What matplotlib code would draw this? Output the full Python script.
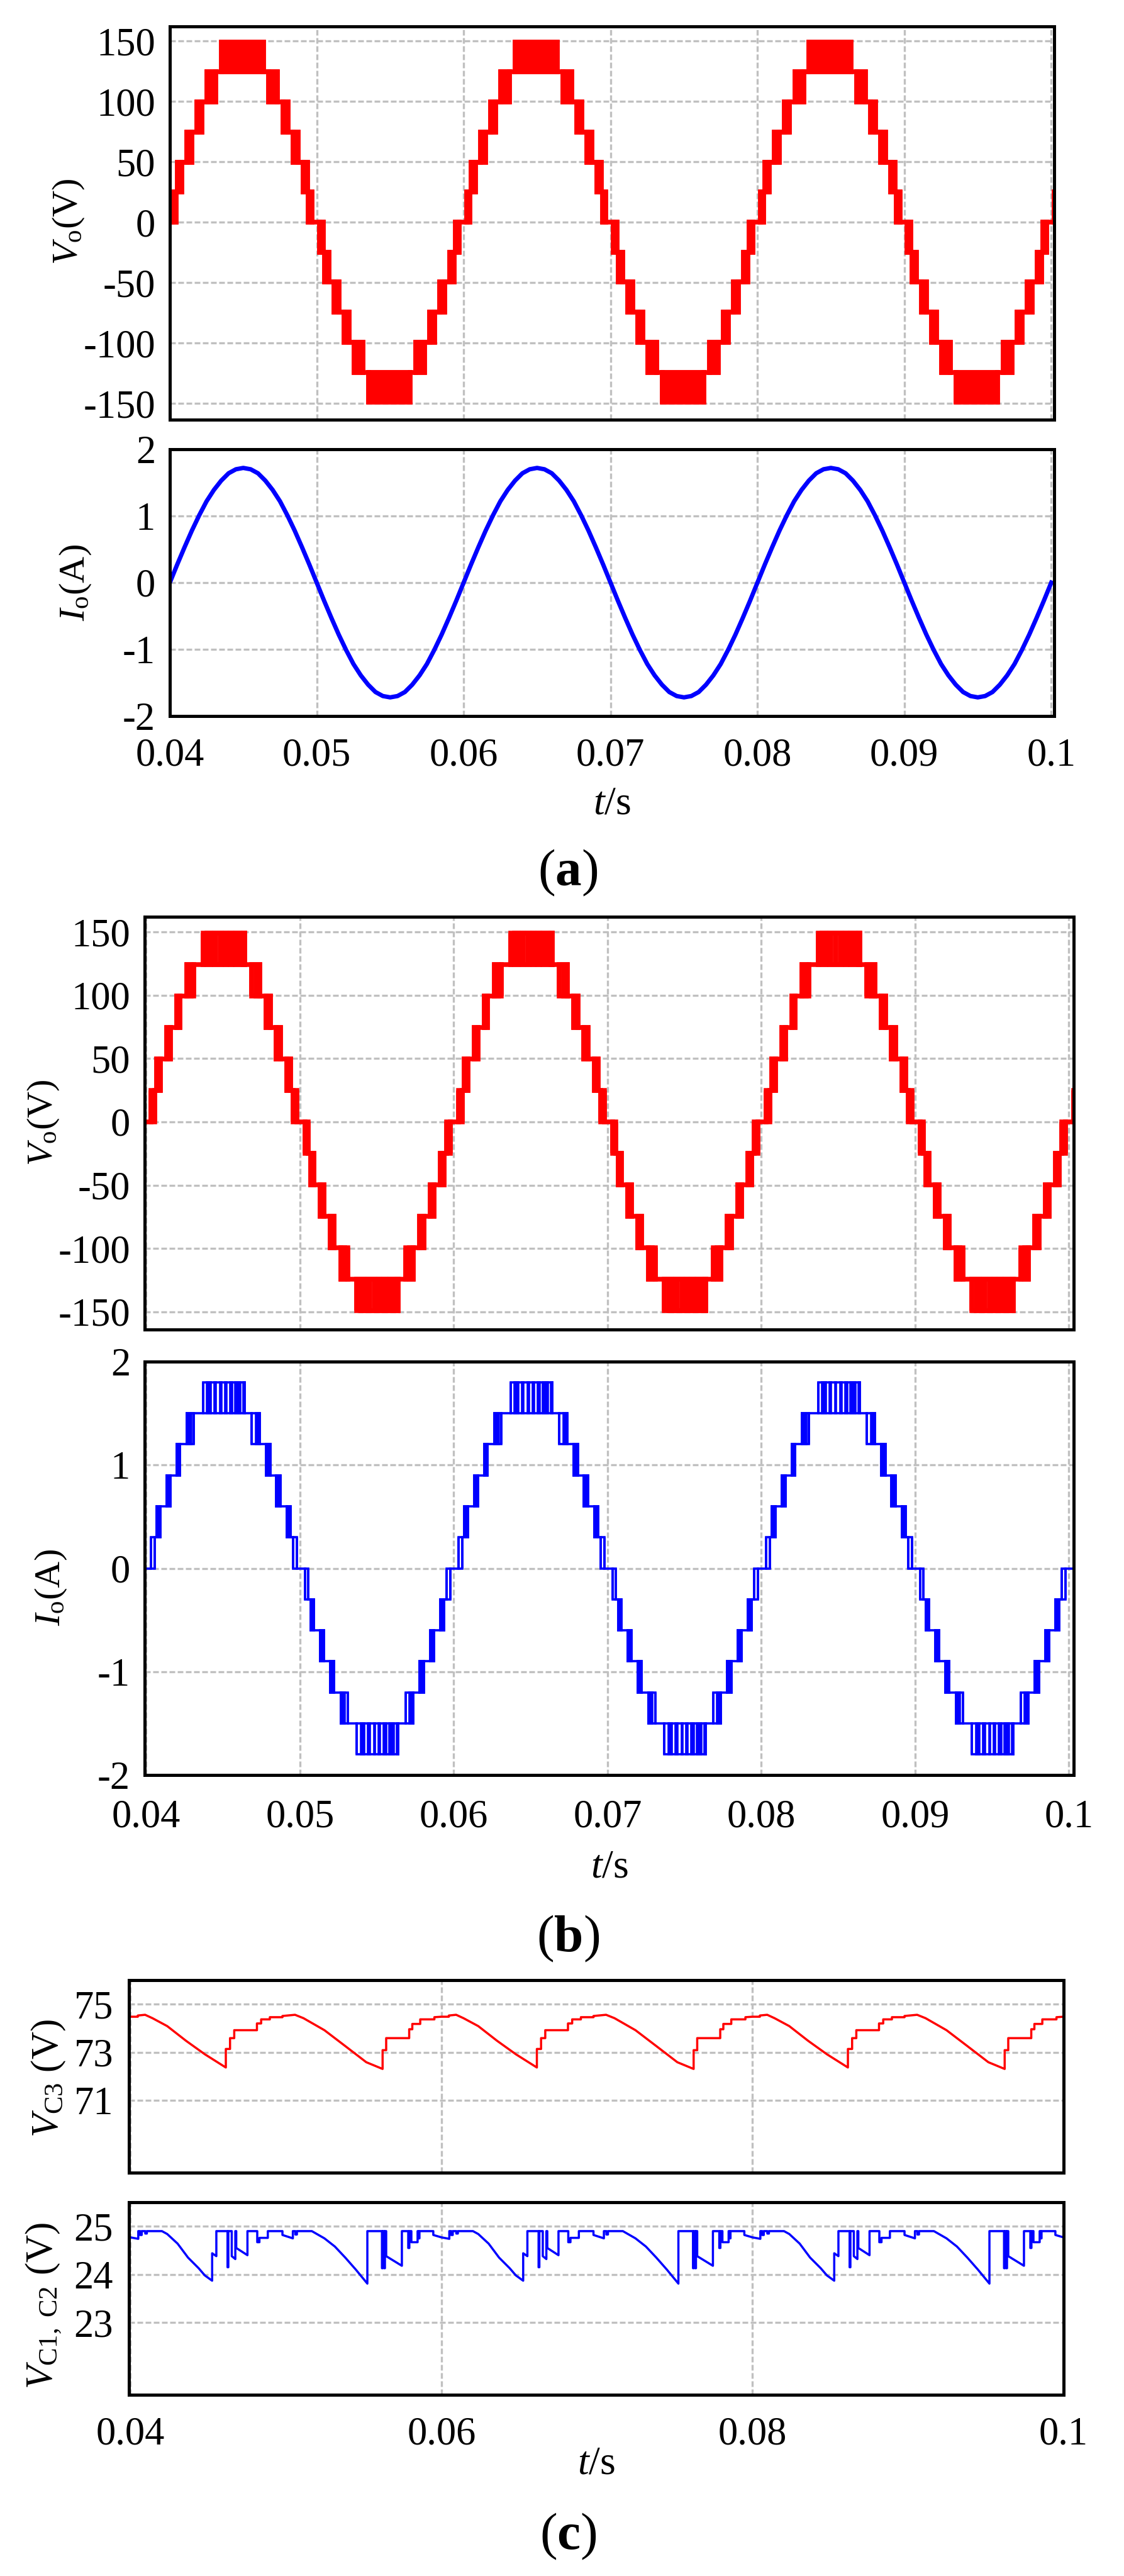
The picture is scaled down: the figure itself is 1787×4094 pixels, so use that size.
import numpy as np
import matplotlib
matplotlib.use('Agg')
import matplotlib.pyplot as plt
from matplotlib.patches import Rectangle

plt.rcParams['font.family'] = ['Liberation Serif', 'DejaVu Serif']
plt.rcParams['mathtext.fontset'] = 'custom'
plt.rcParams['mathtext.rm'] = 'Liberation Serif'
plt.rcParams['mathtext.it'] = 'Liberation Serif:italic'
plt.rcParams['mathtext.bf'] = 'Liberation Serif:bold'
plt.rcParams['axes.unicode_minus'] = False

# ---------------- data ----------------
period_ms = 20.0          # 50 Hz output
step_v = 24.85            # one inverter voltage level (V)
step_i = 0.30             # matching load current step in (b) (A)

# (a) output voltage, positive half cycle: (lower level, [(start_ms, end_ms)])
# times from the zero crossing, each group switches between lower and lower+1
a_v_groups = [
    (0, [(0.25, 0.50)]),
    (1, [(0.58, 0.88)]),
    (2, [(1.22, 1.56)]),
    (3, [(1.91, 2.25)]),
    (4, [(2.60, 3.20)]),
    (5, [(3.58, 6.42)]),
    (4, [(6.80, 7.40)]),
    (3, [(7.75, 8.09)]),
    (2, [(8.44, 8.78)]),
    (1, [(9.12, 9.42)]),
    (0, [(9.50, 9.75)]),
]
a_zero = 0.03994

# (a) load current, one period sampled every 0.5 ms
a_i_period = [0.00, 0.27, 0.53, 0.78, 1.01, 1.22, 1.39, 1.53, 1.64, 1.70,
              1.72, 1.70, 1.64, 1.53, 1.39, 1.22, 1.01, 0.78, 0.53, 0.27,
              0.00, -0.27, -0.53, -0.78, -1.01, -1.22, -1.39, -1.53, -1.64, -1.70,
              -1.72, -1.70, -1.64, -1.53, -1.39, -1.22, -1.01, -0.78, -0.53, -0.27]

# (b) switching pulses of the positive half cycle (same pattern in V and I)
b_groups = [
    (0, [(0.31, 0.31), (0.54, 0.54)]),
    (1, [(0.69, 0.92)]),
    (2, [(1.33, 1.56)]),
    (3, [(1.97, 2.21)]),
    (4, [(2.65, 2.92), (3.10, 3.10)]),
    (5, [(3.70, 3.70), (3.95, 4.19), (4.44, 4.53), (4.81, 4.87), (5.12, 5.21),
         (5.46, 5.59), (5.80, 6.10), (6.31, 6.40)]),
    (4, [(6.87, 6.87), (7.13, 7.37)]),
    (3, [(7.78, 8.08)]),
    (2, [(8.45, 8.73)]),
    (1, [(9.14, 9.37)]),
    (0, [(9.55, 9.55), (9.78, 9.78)]),
]
b_zero = 0.04

# (c) capacitor voltages over one period (ms, V)
c3_t = [0.00, 0.47, 0.47, 0.94, 1.41, 2.36, 3.57, 4.78, 6.13, 6.13, 6.40, 6.40,
        6.67, 6.67, 8.13, 8.13, 8.40, 8.40, 8.96, 8.96, 9.77, 9.77, 10.58, 11.12,
        12.47, 13.81, 15.16, 16.21, 16.21, 16.44, 16.44, 17.92, 17.92, 18.12,
        18.12, 18.63, 18.63, 19.54, 19.54, 20.00]
c3_v = [74.48, 74.48, 74.53, 74.56, 74.42, 74.09, 73.48, 72.92, 72.37, 73.14,
        73.14, 73.59, 73.59, 73.92, 73.92, 74.20, 74.20, 74.37, 74.37, 74.46,
        74.46, 74.51, 74.56, 74.42, 73.92, 73.26, 72.59, 72.31, 73.09, 73.09,
        73.59, 73.59, 73.96, 73.96, 74.18, 74.18, 74.37, 74.37, 74.46, 74.48]

c12_t = [0.00, 0.50, 0.50, 0.62, 0.62, 0.72, 0.72, 0.95, 0.95, 1.05, 1.05, 2.02,
         2.36, 3.03, 3.70, 4.38, 4.78, 5.25, 5.25, 5.52, 5.52, 6.24, 6.24, 6.29,
         6.29, 6.51, 6.51, 6.74, 6.74, 6.80, 6.80, 7.52, 7.52, 8.15, 8.15, 8.29,
         8.29, 8.83, 8.83, 9.77, 9.77, 10.44, 10.44, 10.60, 10.60, 10.70, 10.70,
         11.66, 12.47, 13.14, 13.81, 14.49, 15.23, 15.23, 16.17, 16.17, 16.22,
         16.22, 16.31, 16.31, 16.36, 16.36, 16.44, 16.44, 17.45, 17.45, 17.86,
         17.86, 17.93, 17.93, 18.06, 18.06, 18.46, 18.46, 18.52, 18.52, 18.58,
         18.58, 19.47, 19.47, 20.00]
c12_v = [24.77, 24.74, 24.90, 24.90, 24.82, 24.82, 24.90, 24.90, 24.85, 24.85,
         24.90, 24.90, 24.84, 24.64, 24.35, 24.13, 23.98, 23.87, 24.44, 24.38,
         24.90, 24.90, 24.15, 24.15, 24.90, 24.90, 24.38, 24.32, 24.90, 24.90,
         24.55, 24.40, 24.90, 24.90, 24.67, 24.67, 24.76, 24.76, 24.90, 24.90,
         24.82, 24.75, 24.90, 24.90, 24.83, 24.83, 24.90, 24.90, 24.75, 24.58,
         24.35, 24.10, 23.81, 24.90, 24.90, 24.13, 24.13, 24.90, 24.90, 24.13,
         24.13, 24.90, 24.90, 24.38, 24.18, 24.90, 24.90, 24.55, 24.55, 24.90,
         24.90, 24.67, 24.67, 24.90, 24.90, 24.75, 24.75, 24.90, 24.90, 24.82,
         24.77]

ab_xticks = [0.04, 0.05, 0.06, 0.07, 0.08, 0.09, 0.1]
ab_xlabels = ['0.04', '0.05', '0.06', '0.07', '0.08', '0.09', '0.1']
c_xticks = [0.04, 0.06, 0.08, 0.1]
c_xlabels = ['0.04', '0.06', '0.08', '0.1']
v_ticks = [-150, -100, -50, 0, 50, 100, 150]
i_ticks = [-2, -1, 0, 1, 2]
c3_ticks = [71, 73, 75]
c12_ticks = [23, 24, 25]

RED = '#ff0000'
BLUE = '#0000ff'
W, H = 1787, 4094

fig = plt.figure(figsize=(W / 100, H / 100), dpi=100)


def add_axes_px(left, top, right, bottom):
    return fig.add_axes([left / W, 1 - bottom / H, (right - left) / W, (bottom - top) / H])


def style(ax, box, xlim, xticks, xlabels, ylim, yticks, xpad, ypad, show_x=True):
    ax.set_xlim(xlim)
    ax.set_ylim(ylim)
    ax.set_xticks(xticks)
    ax.set_xticklabels(xlabels if show_x else [])
    ax.set_yticks(yticks)
    ax.set_yticklabels([str(v) for v in yticks])
    ax.tick_params(length=0, labelsize=45)
    ax.tick_params(axis='x', pad=xpad)
    ax.tick_params(axis='y', pad=ypad)
    ax.grid(True, color='#c0c0c0', linewidth=2.4, linestyle=(0, (2.7, 1.2)))
    ax.set_axisbelow(True)
    for s in ax.spines.values():
        s.set_linewidth(3.6)
        s.set_color('black')


def ylabel_at(ax, box, text, px, py, size):
    left, top, right, bottom = box
    ax.set_ylabel(text, fontsize=size, rotation=90, ha='center', va='center')
    ax.yaxis.set_label_coords((px - left) / (right - left), (bottom - py) / (bottom - top))


def xlabel_at(ax, box, py):
    left, top, right, bottom = box
    ax.set_xlabel(r'$t$/s', fontsize=46, va='center')
    ax.xaxis.set_label_coords(0.5, (bottom - py) / (bottom - top))


def draw_levels(ax, groups, t_zero, step, color, lw, n_half=7):
    half = period_ms / 2
    prev_end = t_zero
    prev_levels = {0.0}
    for h in range(n_half):
        sign = 1 if h % 2 == 0 else -1
        off = h * half
        for lo, blocks in groups:
            y_lo = sign * lo * step
            y_hi = sign * (lo + 1) * step
            s_first = t_zero + (blocks[0][0] + off) / 1000
            s_last = t_zero + (blocks[-1][1] + off) / 1000
            levels = {y_lo, y_hi}
            held = (prev_levels & levels).pop()
            ax.plot([prev_end, s_first], [held, held], color=color, lw=lw,
                    solid_capstyle='projecting')
            ax.add_patch(Rectangle((s_first, min(y_lo, y_hi)), s_last - s_first,
                                   abs(y_hi - y_lo), fill=False, edgecolor=color,
                                   lw=lw, joinstyle='miter'))
            for s0, s1 in blocks:
                x0 = t_zero + (s0 + off) / 1000
                x1 = t_zero + (s1 + off) / 1000
                ax.add_patch(Rectangle((x0, min(y_lo, y_hi)), x1 - x0, abs(y_hi - y_lo),
                                       facecolor=color, edgecolor=color, lw=lw,
                                       joinstyle='miter'))
            prev_end = s_last
            prev_levels = levels


def tile(t_ms, vals, n=3):
    t = np.concatenate([np.array(t_ms) + k * period_ms for k in range(n)])
    v = np.concatenate([vals for k in range(n)])
    return 0.04 + t / 1000, v


# ---------------- (a) ----------------
box_a1 = (270, 42, 1676, 667)
box_a2 = (270, 714, 1676, 1138)
a_xlim = (0.04, 0.1002)
ax = add_axes_px(*box_a1)
style(ax, box_a1, a_xlim, ab_xticks, ab_xlabels, (-163.5, 162), v_ticks, 25, 16.5, show_x=False)
draw_levels(ax, a_v_groups, a_zero, step_v, RED, 5.4)
ylabel_at(ax, box_a1, r'$V_\mathrm{o}$(V)', 109, 352, 42)

ax = add_axes_px(*box_a2)
style(ax, box_a2, a_xlim, ab_xticks, ab_xlabels, (-2, 2), i_ticks, 25, 16.5)
a_i = np.append(np.tile(a_i_period, 3), a_i_period[0])
a_t = 0.04 + np.arange(len(a_i)) * 0.0005
ax.plot(a_t, a_i, color=BLUE, lw=5.0)
ylabel_at(ax, box_a2, r'$I_\mathrm{o}$(A)', 120, 926, 42)
xlabel_at(ax, box_a2, 1278)
fig.text(903 / W, 1 - 1387 / H, r'($\mathbf{a}$)', fontsize=60, ha='center', va='center')

# ---------------- (b) ----------------
box_b1 = (230, 1457, 1707, 2113)
box_b2 = (230, 2164, 1707, 2821)
b_xlim = (0.0399, 0.10031)
ax = add_axes_px(*box_b1)
style(ax, box_b1, b_xlim, ab_xticks, ab_xlabels, (-164, 162), v_ticks, 28, 16.5, show_x=False)
draw_levels(ax, b_groups, b_zero, step_v, RED, 5.4)
ylabel_at(ax, box_b1, r'$V_\mathrm{o}$(V)', 69, 1784, 42)

ax = add_axes_px(*box_b2)
style(ax, box_b2, b_xlim, ab_xticks, ab_xlabels, (-2, 2), i_ticks, 28, 16.5)
draw_levels(ax, b_groups, b_zero, step_i, BLUE, 2.6)
ylabel_at(ax, box_b2, r'$I_\mathrm{o}$(A)', 81, 2523, 42)
xlabel_at(ax, box_b2, 2968)
fig.text(903 / W, 1 - 3081 / H, r'($\mathbf{b}$)', fontsize=60, ha='center', va='center')

# ---------------- (c) ----------------
box_c1 = (205, 3147, 1691, 3453)
box_c2 = (205, 3500, 1691, 3806)
c_xlim = (0.0399, 0.1)
ax = add_axes_px(*box_c1)
style(ax, box_c1, c_xlim, c_xticks, c_xlabels, (68, 76), c3_ticks, 25, 18, show_x=False)
t3, v3 = tile(c3_t, c3_v)
ax.plot(t3, v3, color=RED, lw=2.5)
ylabel_at(ax, box_c1, r'$V_\mathrm{C3}$ (V)', 77, 3303, 44)

ax = add_axes_px(*box_c2)
style(ax, box_c2, c_xlim, c_xticks, c_xlabels, (21.5, 25.5), c12_ticks, 25, 18)
t12, v12 = tile(c12_t, c12_v)
ax.plot(t12, v12, color=BLUE, lw=2.5)
ylabel_at(ax, box_c2, r'$V_\mathrm{C1,\ C2}$ (V)', 70, 3664, 44)
xlabel_at(ax, box_c2, 3917)
fig.text(903 / W, 1 - 4031 / H, r'($\mathbf{c}$)', fontsize=60, ha='center', va='center')

fig.savefig('out.png', dpi=100)
